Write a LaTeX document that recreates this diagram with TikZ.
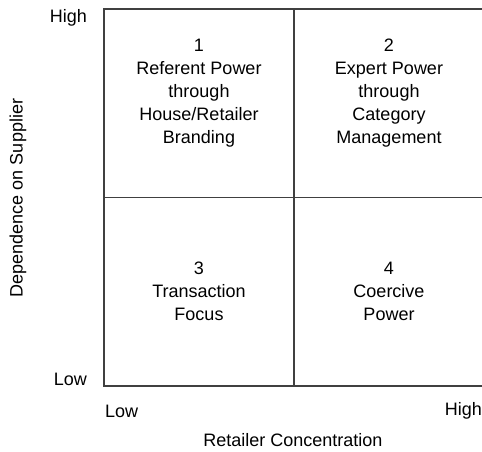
\documentclass[tikz,border=0pt]{standalone}
\usepackage{fontspec}
\setmainfont{Liberation Sans}
\usetikzlibrary{positioning}

\begin{document}
\begin{tikzpicture}
[x=1pt,y=-1pt,align=center,font=\fontsize{18}{23}\selectfont]
\tikzstyle{plain}=[inner sep=0pt]
\tikzstyle{grid}=[line width=1.4pt,black!75]

\useasboundingbox (0,0) rectangle (482,452);

\draw [grid] (104,9) rectangle (484,386);
\draw [grid] (294,9) -- (294,386);
\draw [grid] (104,197.5) -- (484,197.5);

\draw node [plain] (q1) at (199,93) {1\\Referent Power\\through\\House/Retailer\\Branding};
\draw node [plain] (q2) at (389,93) {2\\Expert Power\\through\\Category\\Management};
\draw node [plain] (q3) at (199,291) {3\\Transaction\\Focus};
\draw node [plain] (q4) at (389,291) {4\\Coercive\\Power};

\draw node [plain,anchor=east] (yhigh) at (87,18) {High};
\draw node [plain,anchor=east] (ylow) at (87,379) {Low};
\draw node [plain,anchor=west] (xlow) at (105,411) {Low};
\draw node [plain,anchor=east] (xhigh) at (482,411) {High};
\draw node [plain] (xlabel) at (293,440) {Retailer Concentration};
\draw node [plain,rotate=90] (ylabel) at (18,198) {Dependence on Supplier};

\end{tikzpicture}
\end{document}
